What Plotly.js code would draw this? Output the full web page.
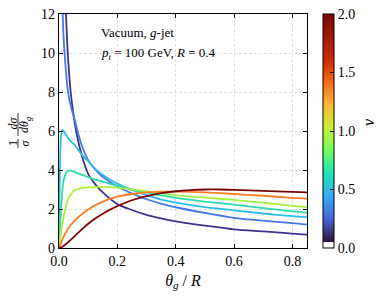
<!DOCTYPE html>
<html><head><meta charset="utf-8">
<script src="https://cdn.plot.ly/plotly-3.0.1.min.js"></script>
<style>html,body{margin:0;padding:0;background:#fff}</style>
</head><body><div id="chart" style="width:383px;height:299px"></div>
<script>
// nu values for each curve
const nuValues = [0.0, 0.25, 0.5, 0.75, 1.0, 1.5, 2.0];

// theta_g / R and (1/sigma) dsigma/dtheta_g for each curve
const x_nu000 = [0.022,0.025,0.03,0.04,0.05,0.06,0.08,0.1,0.125,0.15,0.2,0.25,0.3,0.35,0.4,0.5,0.6,0.7,0.8,0.85];
const y_nu000 = [12.7,11.6,10.0,8.0,6.8,5.9,4.65,3.8,3.25,2.85,2.25,1.95,1.7,1.52,1.37,1.15,0.96,0.85,0.74,0.69];

const x_nu025 = [0.012,0.015,0.02,0.03,0.04,0.055,0.075,0.1,0.125,0.15,0.2,0.25,0.3,0.35,0.4,0.5,0.6,0.7,0.8,0.85];
const y_nu025 = [12.6,11.0,9.8,8.1,7.3,6.5,5.4,4.5,4.0,3.65,3.15,2.8,2.5,2.28,2.09,1.8,1.55,1.4,1.28,1.2];

const x_nu050 = [0,0.002,0.004,0.007,0.012,0.018,0.025,0.037,0.053,0.065,0.083,0.1,0.128,0.15,0.2,0.25,0.3,0.35,0.4,0.5,0.6,0.7,0.8,0.85];
const y_nu050 = [0,2.8,4.6,5.7,6.06,5.95,5.78,5.52,5.3,5.05,4.7,4.45,4.0,3.75,3.3,2.98,2.72,2.48,2.33,2.1,1.93,1.77,1.63,1.58];

const x_nu075 = [0,0.003,0.006,0.0085,0.011,0.014,0.018,0.024,0.03,0.038,0.05,0.065,0.08,0.1,0.128,0.15,0.2,0.25,0.3,0.35,0.4,0.5,0.6,0.7,0.8,0.85];
const y_nu075 = [0,1.0,1.8,2.3,2.85,3.3,3.6,3.85,3.95,3.97,3.92,3.83,3.75,3.63,3.49,3.4,3.2,3.0,2.85,2.7,2.57,2.38,2.22,2.05,1.88,1.81];

const x_nu100 = [0,0.004,0.008,0.014,0.02,0.025,0.03,0.04,0.05,0.06,0.078,0.1,0.128,0.15,0.2,0.25,0.3,0.35,0.4,0.5,0.6,0.7,0.8,0.85];
const y_nu100 = [0,0.45,0.9,1.44,1.9,2.2,2.45,2.75,2.92,3.0,3.07,3.11,3.12,3.12,3.1,3.0,2.9,2.8,2.7,2.58,2.47,2.32,2.16,2.09];

const x_nu150 = [0,0.01,0.025,0.04,0.06,0.08,0.1,0.125,0.15,0.175,0.2,0.25,0.3,0.35,0.4,0.5,0.6,0.7,0.8,0.85];
const y_nu150 = [0,0.38,0.85,1.18,1.5,1.76,1.98,2.2,2.38,2.52,2.63,2.77,2.85,2.89,2.89,2.85,2.77,2.68,2.57,2.53];

const x_nu200 = [0,0.01,0.025,0.04,0.06,0.08,0.1,0.125,0.15,0.175,0.2,0.25,0.3,0.35,0.4,0.45,0.5,0.55,0.6,0.7,0.8,0.85];
const y_nu200 = [0,0.05,0.22,0.42,0.7,0.98,1.24,1.52,1.76,1.97,2.15,2.45,2.66,2.81,2.91,2.97,3.0,3.0,2.98,2.93,2.88,2.85];

const seriesX = [x_nu000,x_nu025,x_nu050,x_nu075,x_nu100,x_nu150,x_nu200];
const seriesY = [y_nu000,y_nu025,y_nu050,y_nu075,y_nu100,y_nu150,y_nu200];
const lineColors = ['#3a3490','#4679e8','#2abdec','#2cdcaa','#a6f23c','#fa8024','#7a0403'];

const xTicks = [0.0,0.2,0.4,0.6,0.8];
const yTicks = [0,2,4,6,8,10,12];
const cbTicks = [0.0,0.5,1.0,1.5,2.0];

const turbo = ['#30123b','#4662d7','#36aaf9','#1ae4b6','#72fe5e','#c8ef34','#faba39','#f66b19','#ca2a04','#a01b01','#7a0403'];
const off = 0.025;
const colorscale = [[0,'#ffffff'],[off,'#ffffff'],[off+0.0001,turbo[0]]];
for (let i=1;i<turbo.length;i++) colorscale.push([off+(1-off)*i/(turbo.length-1), turbo[i]]);

const FONT = 'Liberation Serif, DejaVu Serif, serif';
const traces = seriesX.map((xs,i)=>({
  type:'scatter', mode:'lines', x: xs, y: seriesY[i],
  line:{color:lineColors[i], width:1.8, shape:'spline', smoothing:0.8},
  showlegend:false, hoverinfo:'skip'
}));
traces.push({
  type:'scatter', mode:'markers', x:[-1,-1], y:[-1,-1], showlegend:false, hoverinfo:'skip',
  marker:{color:[nuValues[0], nuValues[nuValues.length-1]], cmin:0, cmax:2, colorscale:colorscale, showscale:true, size:1,
    colorbar:{x:1.0645, xanchor:'left', xpad:0, y:0.5, yanchor:'middle', ypad:0, len:234, lenmode:'pixels',
      thickness:11, thicknessmode:'pixels', outlinewidth:1, outlinecolor:'#000',
      tickvals:cbTicks, ticktext:cbTicks.map(v=>v.toFixed(1)), ticks:'inside', ticklen:4, tickcolor:'#000',
      tickfont:{family:FONT, size:14, color:'#000'}}}
});

const W=383, H=299, L=59, R=76, T=14, B=51;
const pw = W-L-R, ph = H-T-B;
const px2x = px => (px-L)/pw;
const py2y = py => (H-B-py)/ph;

const axisCommon = {showline:true, linecolor:'#000', linewidth:1.2, mirror:'ticks', ticks:'inside', ticklen:4, tickwidth:1, tickcolor:'#000',
  showgrid:true, gridcolor:'#d4d4d4', griddash:'3px,2px', gridwidth:0.7, zeroline:false, tickfont:{family:FONT,size:14,color:'#000'}};

const layout = {
  width:W, height:H, margin:{l:L,r:R,t:T,b:B}, paper_bgcolor:'#fff', plot_bgcolor:'#fff',
  xaxis:Object.assign({}, axisCommon, {range:[0,0.85], tickvals:xTicks, ticktext:xTicks.map(v=>v.toFixed(1)),
    title:{text:'<i>θ<sub>g</sub></i> / <i>R</i>', font:{family:FONT,size:16,color:'#000'}, standoff:6}}),
  yaxis:Object.assign({}, axisCommon, {range:[0,12], tickvals:yTicks, ticktext:yTicks.map(String)}),
  annotations:[
    {xref:'x', yref:'y', x:0.138, y:11.03, xanchor:'left', yanchor:'middle', showarrow:false,
      text:'Vacuum, <i>g</i>-jet', font:{family:FONT,size:13,color:'#000'}},
    {xref:'x', yref:'y', x:0.138, y:10.0, xanchor:'left', yanchor:'middle', showarrow:false,
      text:'<i>p<sub>t</sub></i> = 100 GeV, <i>R</i> = 0.4', font:{family:FONT,size:13,color:'#000'}},
    {xref:'paper', yref:'paper', x:px2x(12.5), y:py2y(143.5), textangle:-90, xanchor:'center', yanchor:'middle', showarrow:false,
      text:'1', font:{family:FONT,size:12,color:'#000'}},
    {xref:'paper', yref:'paper', x:px2x(24), y:py2y(143.5), textangle:-90, xanchor:'center', yanchor:'middle', showarrow:false,
      text:'<i>σ</i>', font:{family:FONT,size:12,color:'#000'}},
    {xref:'paper', yref:'paper', x:px2x(12.5), y:py2y(123), textangle:-90, xanchor:'center', yanchor:'middle', showarrow:false,
      text:'<i>dσ</i>', font:{family:FONT,size:12,color:'#000'}},
    {xref:'paper', yref:'paper', x:px2x(25), y:py2y(125), textangle:-90, xanchor:'center', yanchor:'middle', showarrow:false,
      text:'<i>dθ<sub>g</sub></i>', font:{family:FONT,size:12,color:'#000'}},
    {xref:'paper', yref:'paper', x:px2x(368), y:py2y(122), textangle:-90, xanchor:'center', yanchor:'middle', showarrow:false,
      text:'<i>ν</i>', font:{family:FONT,size:16,color:'#000'}}
  ],
  shapes:[
    {type:'line', xref:'paper', yref:'paper', x0:px2x(18), x1:px2x(18), y0:py2y(148), y1:py2y(139), line:{color:'#000', width:0.8}},
    {type:'line', xref:'paper', yref:'paper', x0:px2x(18), x1:px2x(18), y0:py2y(136), y1:py2y(113), line:{color:'#000', width:0.8}}
  ]
};

Plotly.newPlot('chart', traces, layout, {staticPlot:true, displayModeBar:false});
</script></body></html>
